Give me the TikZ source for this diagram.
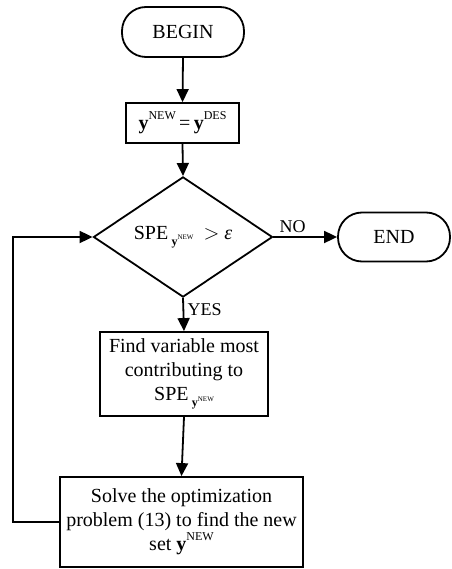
\documentclass[tikz,border=0pt]{standalone}
\usepackage{fontspec}
\setmainfont{Liberation Serif}
\usetikzlibrary{arrows.meta,positioning,shapes.geometric}
\newcommand{\upidx}[1]{\raisebox{0.5em}{\fontsize{12}{12}\selectfont #1}}
\newcommand{\spey}{SPE\,\raisebox{-0.3em}{\fontsize{12}{12}\selectfont\textbf{y}\raisebox{0.45em}{\fontsize{7}{7}\selectfont NEW}}}

\begin{document}
\begin{tikzpicture}[
  x=1pt,y=1pt,
  font=\fontsize{20}{24}\selectfont,
  line width=1.8pt,
  term/.style={draw,rounded corners=24pt,minimum width=122pt,minimum height=50pt},
  proc/.style={draw,align=center,inner sep=2pt},
  dec/.style={draw,diamond,minimum width=179pt,minimum height=89pt,inner sep=0pt},
  arr/.style={-{Triangle[length=13pt,width=12pt]}},
  lbl/.style={font=\fontsize{18}{20}\selectfont}
]
\useasboundingbox (0,0) rectangle (451,-569);
\node[term] (begin) at (183,-32) {BEGIN};
\node[proc,minimum width=113pt,minimum height=40pt] (init) at (182.5,-123)
  {\textbf{y}\upidx{NEW}\,=\,\textbf{y}\upidx{DES}};
\node[dec] (test) at (183,-237) {\spey\ \ $>$ \textit{ε}};
\node[term,minimum width=112pt,minimum height=49pt] (end) at (394,-237) {END};
\node[proc,minimum width=168pt,minimum height=84pt] (find) at (184,-374)
  {Find variable most\\contributing to\\\spey};
\node[proc,minimum width=243pt,minimum height=90pt] (solve) at (181.5,-522)
  {Solve the optimization\\problem (13) to find the new\\set \textbf{y}\upidx{NEW}};
\coordinate (loop) at (13,-522);

\draw[arr] (begin.south) -- (init.north);
\draw[arr] (init.south) -- (test.north);
\draw[arr] (test.east) -- node[lbl,above,pos=.3]{NO} (end.west);
\draw[arr] (test.south) -- node[lbl,right,pos=.36]{YES} (find.north);
\draw[arr] (find.south) -- (solve.north);
\draw[arr] (solve.west) -- (loop) |- (test.west);
\end{tikzpicture}
\end{document}
